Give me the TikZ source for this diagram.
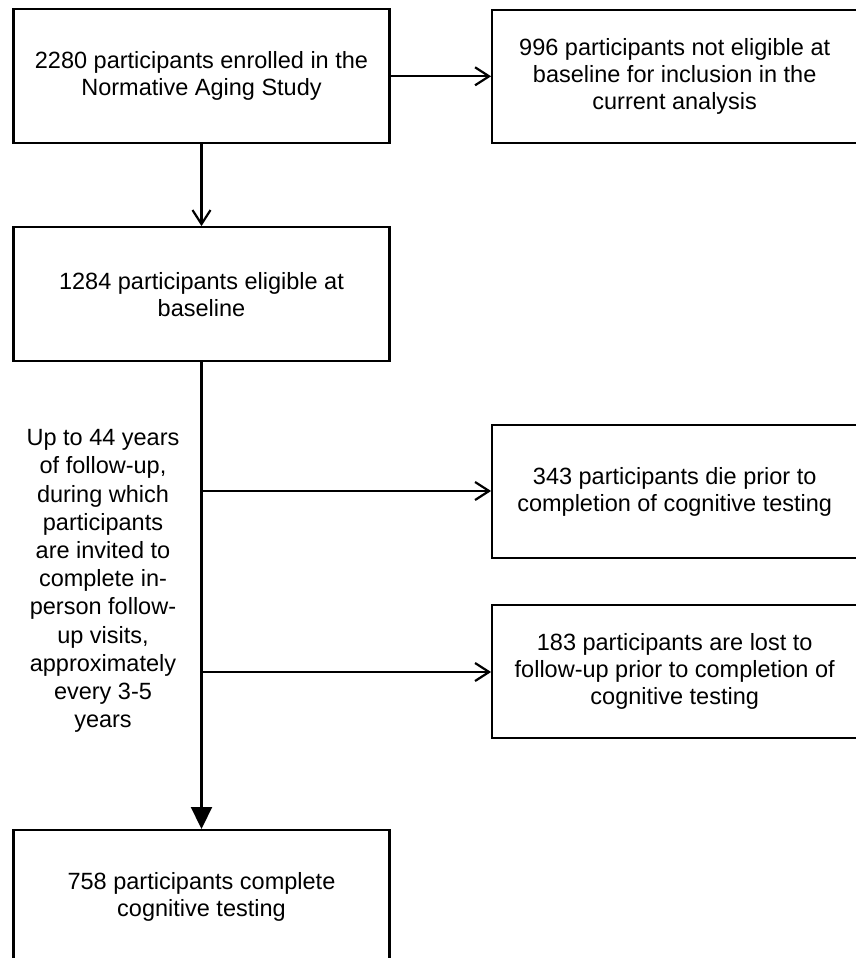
\documentclass[tikz,border=0pt]{standalone}
\usepackage{fontspec}
\setmainfont{Liberation Sans}
\usetikzlibrary{positioning,arrows.meta,calc}

\begin{document}
\begin{tikzpicture}[x=1pt, y=-1pt, font=\fontsize{23.5}{27}\selectfont,
  line width=2.2pt,
  box/.style={draw, align=center, inner sep=0pt, minimum width=376pt, minimum height=134pt},
  sidebox/.style={box, minimum width=365pt, minimum height=133pt},
  note/.style={align=center, inner sep=0pt, font=\fontsize{23.5}{28.2}\selectfont},
  arr/.style={-{Straight Barb[length=14pt,width=18pt]}},
  endarr/.style={-{Triangle[length=22pt,width=21pt]}}]
\useasboundingbox (0,0) rectangle (856,958);
\node[box] (enrol) at (201.5,76.3) {2280 participants enrolled in the\\ Normative Aging Study};
\node[sidebox, right=100.5pt of enrol] (noteli) {996 participants not eligible at\\ baseline for inclusion in the\\ current analysis};
\node[box, below=81.7pt of enrol] (elig) {1284 participants eligible at\\ baseline};
\node[sidebox, below=280pt of noteli] (died) {343 participants die prior to\\ completion of cognitive testing};
\node[sidebox, below=45pt of died] (lost) {183 participants are lost to\\ follow-up prior to completion of\\ cognitive testing};
\node[box, below=466.7pt of elig] (done) {758 participants complete\\ cognitive testing};
\node[note] (fu) at (103,581) {Up to 44 years\\ of follow-up,\\ during which\\ participants\\ are invited to\\ complete in-\\ person follow-\\ up visits,\\ approximately\\ every 3-5\\ years};
% points on the follow-up line
\coordinate (s1) at (elig.south |- 0,491);
\coordinate (s2) at (elig.south |- 0,672);
\draw[arr] (enrol) -- (noteli);
\draw[arr] (enrol) -- (elig);
\draw[endarr] (elig) -- (done);
\draw[arr] (s1) -- (s1 -| died.west);
\draw[arr] (s2) -- (s2 -| lost.west);
\end{tikzpicture}
\end{document}
